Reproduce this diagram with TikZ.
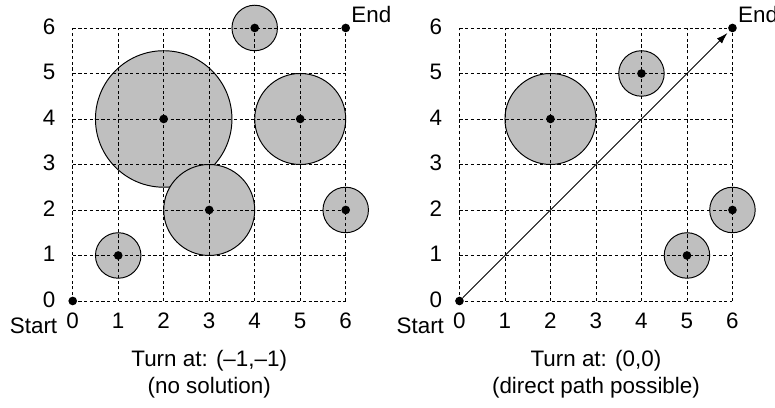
\documentclass[tikz,border=0pt]{standalone}
\usepackage{fontspec}
\setmainfont{Liberation Sans}
\usetikzlibrary{arrows.meta}
\begin{document}
\begin{tikzpicture}[x=1cm,y=1cm,
  font=\fontsize{14}{16.5}\selectfont,
  gridline/.style={line width=0.5pt, dash pattern=on 2pt off 1.6pt},
  obst/.style={circle, draw=black, line width=0.6pt, fill=black!25, inner sep=0pt},
  dot/.style={circle, fill=black, inner sep=0pt, minimum size=0.19cm},
  lbl/.style={inner sep=0pt, anchor=base},
  path/.style={line width=0.6pt, -{Latex[length=7pt,width=4.5pt]}, shorten >=1.5pt}
]
\useasboundingbox (-1.598,-2.352) rectangle (15.435,6.615);

% ---------- left panel ----------
\begin{scope}
  \node[obst, minimum size=3cm] (La) at (2,4) {};
  \node[obst, minimum size=2cm] (Lb) at (5,4) {};
  \node[obst, minimum size=2cm] (Lc) at (3,2) {};
  \node[obst, minimum size=1cm] (Ld) at (1,1) {};
  \node[obst, minimum size=1cm] (Le) at (4,6) {};
  \node[obst, minimum size=1cm] (Lf) at (6,2) {};
  \draw[gridline] (0,0) grid (6,6);
  \foreach \p/\n in {(2,4)/a,(5,4)/b,(3,2)/c,(1,1)/d,(4,6)/e,(6,2)/f}
    \node[dot] (Lc\n) at \p {};
  \node[dot] (Ls) at (0,0) {};
  \node[dot] (Le6) at (6,6) {};
  \foreach \i in {0,...,6} {
    \node[lbl] (Lx\i) at (\i,-0.6) {\i};
    \node[lbl] (Ly\i) at (-0.52,\i-0.14) {\i};
  }
  \node[lbl] (Lstart) at (-0.86,-0.725) {Start};
  \node[lbl, anchor=base west] (Lend) at (6.12,6.11) {End};
  \node[lbl] (Lt1) at (3,-1.444) {Turn at: (–1,–1)};
  \node[lbl] (Lt2) at (3,-2.04) {(no solution)};
\end{scope}

% ---------- right panel ----------
\begin{scope}[xshift=8.5cm]
  \node[obst, minimum size=2cm] (Ra) at (2,4) {};
  \node[obst, minimum size=1cm] (Rb) at (4,5) {};
  \node[obst, minimum size=1cm] (Rc) at (5,1) {};
  \node[obst, minimum size=1cm] (Rd) at (6,2) {};
  \draw[gridline] (0,0) grid (6,6);
  \foreach \p/\n in {(2,4)/a,(4,5)/b,(5,1)/c,(6,2)/d}
    \node[dot] (Rc\n) at \p {};
  \node[dot] (Rs) at (0,0) {};
  \node[dot] (Re6) at (6,6) {};
  \draw[path] (Rs) -- (Re6);
  \foreach \i in {0,...,6} {
    \node[lbl] (Rx\i) at (\i,-0.6) {\i};
    \node[lbl] (Ry\i) at (-0.52,\i-0.14) {\i};
  }
  \node[lbl] (Rstart) at (-0.86,-0.725) {Start};
  \node[lbl, anchor=base west] (Rend) at (6.12,6.11) {End};
  \node[lbl] (Rt1) at (3,-1.444) {Turn at: (0,0)};
  \node[lbl] (Rt2) at (3,-2.04) {(direct path possible)};
\end{scope}
\end{tikzpicture}
\end{document}
